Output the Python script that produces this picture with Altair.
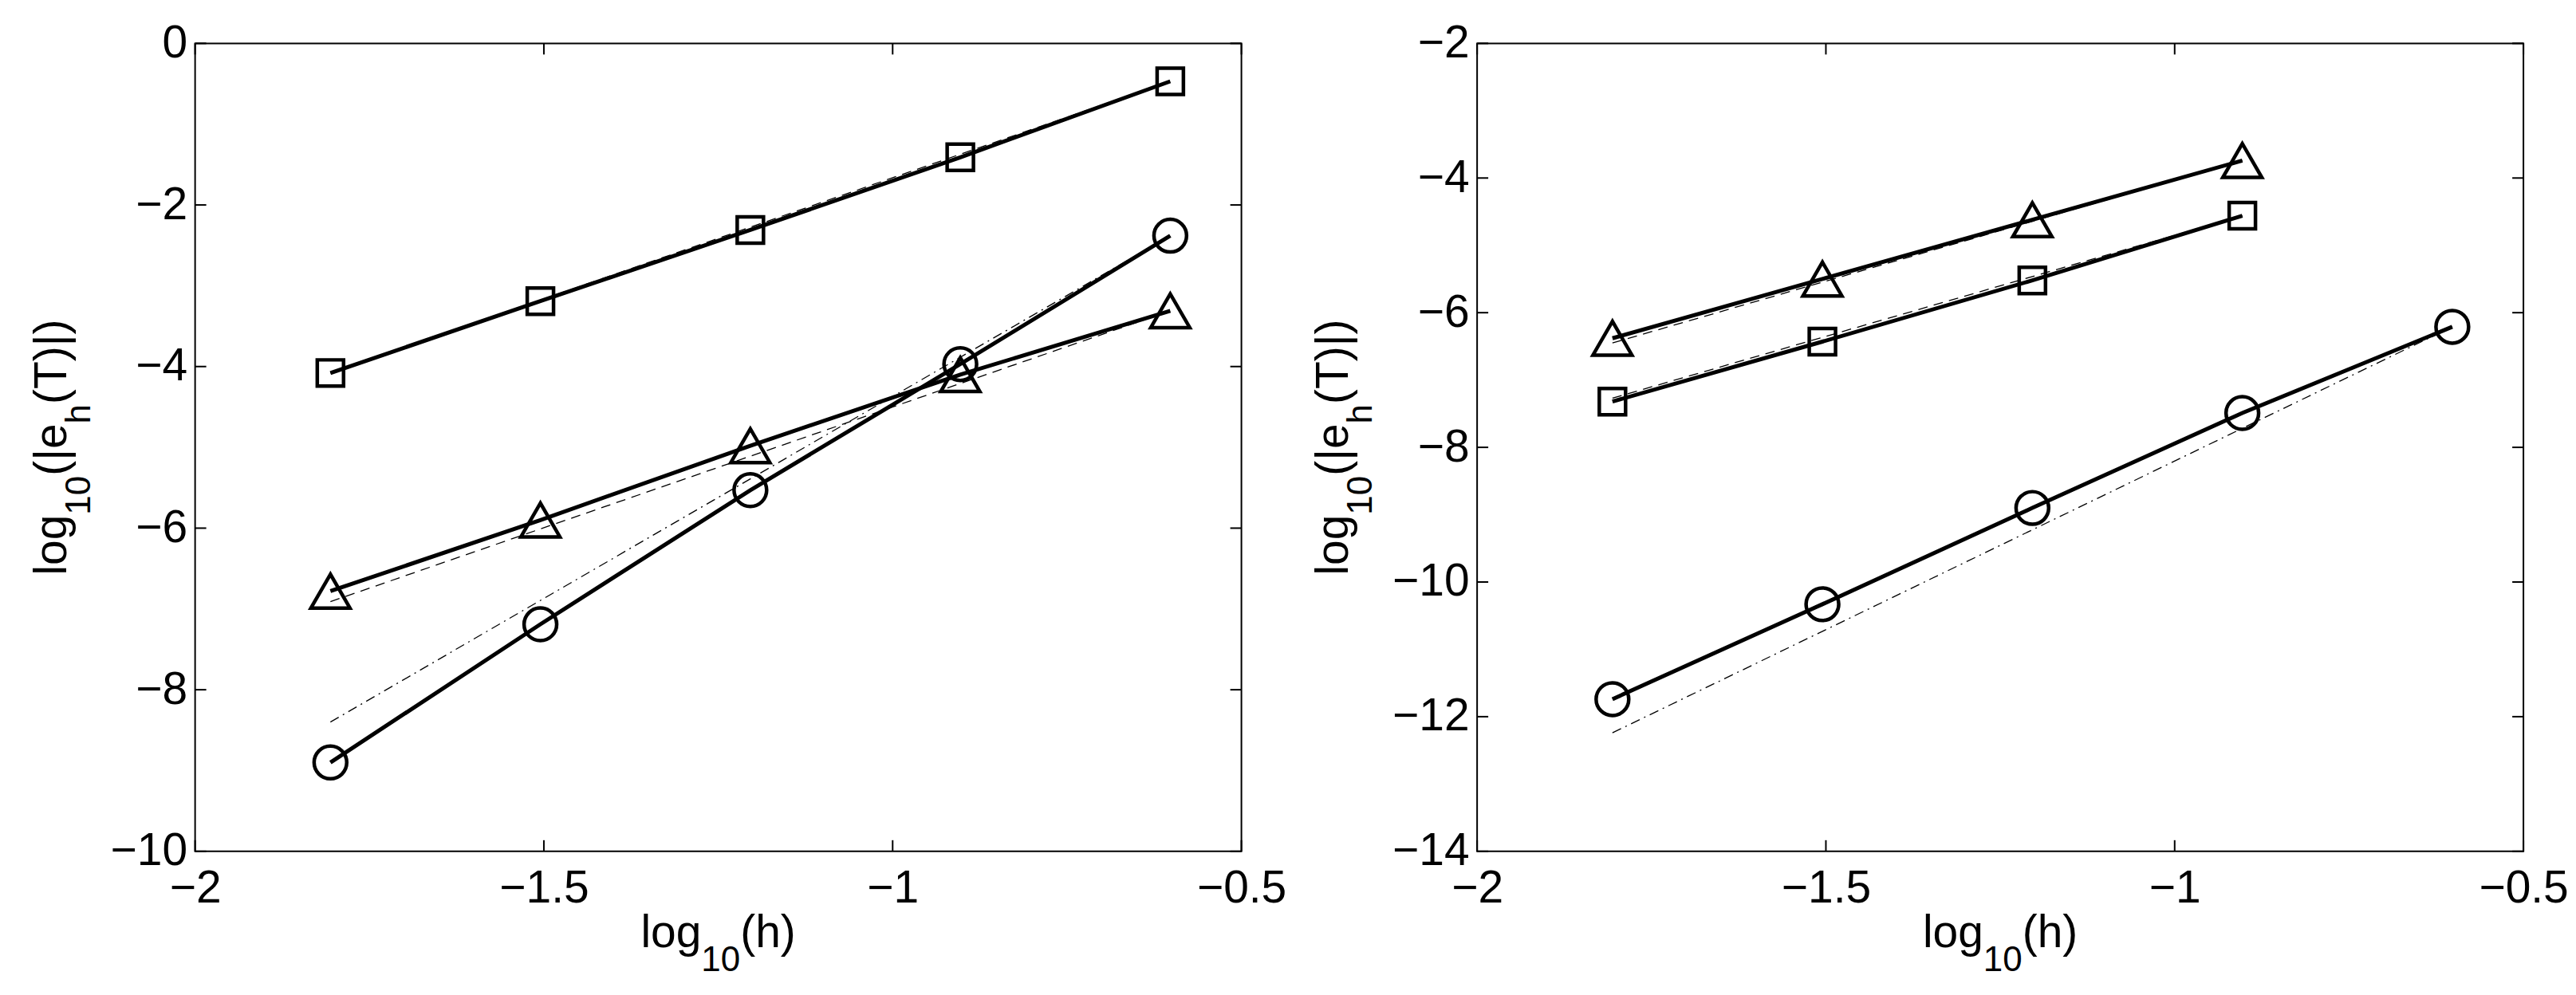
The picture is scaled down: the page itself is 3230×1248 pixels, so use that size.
import altair as alt
import pandas as pd

# ---- data ----
log_h = [-1.806, -1.505, -1.204, -0.903, -0.602]

# left panel
L_square = [-4.08, -3.19, -2.31, -1.41, -0.47]
L_circle = [-8.90, -7.19, -5.53, -3.97, -2.38]
L_triangle = [-6.78, -5.90, -4.98, -4.10, -3.31]
L_ref_square = [-4.08, -0.47]     # dashed, endpoints at log_h[0], log_h[-1]
L_ref_triangle = [-6.91, -3.31]   # dashed
L_ref_circle = [-8.40, -2.38]     # dash-dot

# right panel
R_x4 = [-1.806, -1.505, -1.204, -0.903]
R_triangle = [-6.38, -5.50, -4.62, -3.74]
R_square = [-7.32, -6.43, -5.52, -4.56]
R_circle = [-11.74, -10.33, -8.90, -7.49, -6.21]
R_ref_triangle = [-6.45, -3.74]   # dashed, x from R_x4 ends
R_ref_square = [-7.27, -4.56]     # dashed
R_ref_circle = [-12.24, -6.21]    # dash-dot, x from log_h ends

x_ticks = [-2, -1.5, -1, -0.5]
L_yticks = [0, -2, -4, -6, -8, -10]
R_yticks = [-2, -4, -6, -8, -10, -12, -14]

W, H = 1314, 1015
FONT = "Liberation Sans"
FS = 57
SUB = 44
TICK = 14


def panel(series, refs, ydom, yticks):
    X = alt.X("x:Q", scale=alt.Scale(domain=[-2, -0.5], nice=False, zero=False),
              axis=alt.Axis(values=x_ticks, format="~g", labelFlush=False, ticks=False,
                            tickSize=0, domain=False, grid=False, title=None,
                            labelPadding=19, labelFont=FONT, labelFontSize=FS,
                            labelColor="black", labelOverlap=False))
    Y = alt.Y("y:Q", scale=alt.Scale(domain=ydom, nice=False, zero=False),
              axis=alt.Axis(values=yticks, format="d", ticks=False, tickSize=0,
                            domain=False, grid=False, title=None, labelPadding=10,
                            labelFont=FONT, labelFontSize=FS, labelColor="black",
                            labelOverlap=False, labelFlush=False))
    layers = []
    # reference slope lines
    for xs, ys, dash in refs:
        df = pd.DataFrame({"x": xs, "y": ys})
        layers.append(alt.Chart(df).mark_line(color="black", strokeWidth=1.3,
                                              strokeDash=dash).encode(x=X, y=Y))
    # solid lines
    for xs, ys, shape, size in series:
        df = pd.DataFrame({"x": xs, "y": ys})
        layers.append(alt.Chart(df).mark_line(color="black", strokeWidth=5).encode(x=X, y=Y))
    # markers
    for xs, ys, shape, size in series:
        df = pd.DataFrame({"x": xs, "y": ys})
        layers.append(alt.Chart(df).mark_point(shape=shape, size=size, filled=False,
                                               color="black", strokeWidth=4.5,
                                               opacity=1).encode(x=X, y=Y))
    # inward ticks on all four sides
    xt = pd.DataFrame({"x": x_ticks})
    yt = pd.DataFrame({"y": yticks})
    layers.append(alt.Chart(xt).mark_rule(color="black", strokeWidth=2).encode(
        x=X, y=alt.value(H - TICK), y2=alt.value(H)))
    layers.append(alt.Chart(xt).mark_rule(color="black", strokeWidth=2).encode(
        x=X, y=alt.value(0), y2=alt.value(TICK)))
    layers.append(alt.Chart(yt).mark_rule(color="black", strokeWidth=2).encode(
        y=Y, x=alt.value(0), x2=alt.value(TICK)))
    layers.append(alt.Chart(yt).mark_rule(color="black", strokeWidth=2).encode(
        y=Y, x=alt.value(W - TICK), x2=alt.value(W)))

    # axis titles with subscripts
    def txt(s, x, y, size, angle=0):
        return alt.Chart(pd.DataFrame({"t": [s]})).mark_text(
            align="left", baseline="alphabetic", font=FONT, fontSize=size,
            color="black", angle=angle).encode(text="t:N", x=alt.value(x), y=alt.value(y))

    # x title: log10(h)
    w_log = 1.334 * FS
    w_10 = 1.112 * SUB
    w_h = 1.222 * FS
    x0 = W / 2 - (w_log + w_10 + w_h) / 2
    layers += [
        txt("log", x0, 1135, FS),
        txt("10", x0 + w_log, 1165, SUB),
        txt("(h)", x0 + w_log + w_10, 1135, FS),
    ]
    # y title: log10(|eh(T)|), rotated
    w_pe = 1.149 * FS
    w_hs = 0.556 * SUB
    w_rest = 1.870 * FS
    total = w_log + w_10 + w_pe + w_hs + w_rest
    y0 = H / 2 + total / 2
    bx, sx = -162, -132
    layers += [
        txt("log", bx, y0, FS, 270),
        txt("10", sx, y0 - w_log, SUB, 270),
        txt("(|e", bx, y0 - w_log - w_10, FS, 270),
        txt("h", sx, y0 - w_log - w_10 - w_pe, SUB, 270),
        txt("(T)|)", bx, y0 - w_log - w_10 - w_pe - w_hs, FS, 270),
    ]
    return alt.layer(*layers).properties(width=W, height=H)


DASH = [12, 8]
DASHDOT = [12, 6, 2, 6]

left = panel(
    series=[(log_h, L_square, "square", 1090),
            (log_h, L_circle, "circle", 1680),
            (log_h, L_triangle, "triangle-up", 2400)],
    refs=[([log_h[0], log_h[-1]], L_ref_square, DASH),
          ([log_h[0], log_h[-1]], L_ref_triangle, DASH),
          ([log_h[0], log_h[-1]], L_ref_circle, DASHDOT)],
    ydom=[-10, 0], yticks=L_yticks)

right = panel(
    series=[(R_x4, R_triangle, "triangle-up", 2400),
            (R_x4, R_square, "square", 1090),
            (log_h, R_circle, "circle", 1680)],
    refs=[([R_x4[0], R_x4[-1]], R_ref_triangle, DASH),
          ([R_x4[0], R_x4[-1]], R_ref_square, DASH),
          ([log_h[0], log_h[-1]], R_ref_circle, DASHDOT)],
    ydom=[-14, -2], yticks=R_yticks)

chart = alt.hconcat(left, right, spacing=29).properties(
    padding={"left": 28, "top": 15.5, "right": 0, "bottom": 0},
    background="white",
).configure_view(stroke="black", strokeWidth=2)

chart.save("out.html", embed_options={"renderer": "svg", "actions": False})
